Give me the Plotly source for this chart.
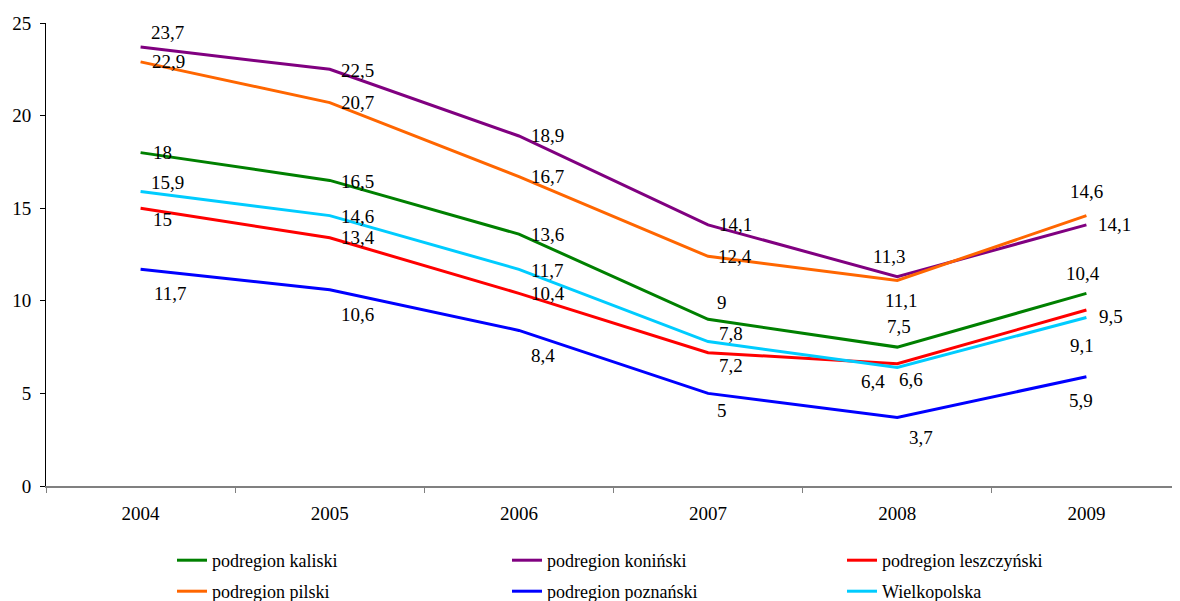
import plotly.graph_objects as go

years = ["2004", "2005", "2006", "2007", "2008", "2009"]

kaliski = [18, 16.5, 13.6, 9, 7.5, 10.4]
koninski = [23.7, 22.5, 18.9, 14.1, 11.3, 14.1]
leszczynski = [15, 13.4, 10.4, 7.2, 6.6, 9.5]
pilski = [22.9, 20.7, 16.7, 12.4, 11.1, 14.6]
poznanski = [11.7, 10.6, 8.4, 5, 3.7, 5.9]
wielkopolska = [15.9, 14.6, 11.7, 7.8, 6.4, 9.1]

# label offsets in pixels (dx right, dy down) -- just to mimic the excel placement
offsets = {
    "kaliski": [(22, 0), (28, 1), (29, 0), (14, -17), (2, -21), (-3, -20)],
    "koninski": [(27, -15), (28, 1), (29, 0), (27, 0), (-8, -20), (28, 0)],
    "leszczynski": [(22, 11), (28, 0), (29, 0), (23, 13), (14, 16), (25, 6)],
    "pilski": [(28, 0), (28, 0), (29, 0), (27, 0), (4, 20), (0, -24)],
    "poznanski": [(30, 24), (28, 25), (24, 25), (14, 17), (24, 20), (-5, 24)],
    "wielkopolska": [(27, -9), (28, 1), (29, 1), (23, -8), (-24, 14), (-4, 28)],
}

# (key, legend name, values, colour, legend column x, legend row y) in page pixels
series = [
    ("kaliski", "podregion kaliski", kaliski, "#008000", 164, 534),
    ("koninski", "podregion koniński", koninski, "#800080", 499, 534),
    ("leszczynski", "podregion leszczyński", leszczynski, "#FF0000", 834, 534),
    ("pilski", "podregion pilski", pilski, "#FF6600", 164, 565),
    ("poznanski", "podregion poznański", poznanski, "#0000FF", 499, 565),
    ("wielkopolska", "Wielkopolska", wielkopolska, "#00CCFF", 834, 565),
]

FONT = "Liberation Serif"
SIZE = 19

fig = go.Figure()
annotations = []
legends = {}
for n, (key, name, vals, color, lx, ly) in enumerate(series):
    leg = "legend" if n == 0 else f"legend{n + 1}"
    fig.add_trace(go.Scatter(x=years, y=vals, name=name, mode="lines", showlegend=True,
                             line=dict(color=color, width=3), legend=leg))
    legends[leg] = dict(x=lx / 1180, y=1 - ly / 601, orientation="v", xref="container", yref="container",
                        xanchor="left", yanchor="top", bgcolor="rgba(0,0,0,0)",
                        font=dict(family=FONT, size=18, color="black"))
    for i, (v, (dx, dy)) in enumerate(zip(vals, offsets[key])):
        annotations.append(dict(x=i, y=v, xref="x", yref="y", text=str(v).replace(".", ","),
                                showarrow=False, xshift=dx, yshift=-dy,
                                font=dict(family=FONT, size=SIZE, color="black")))

fig.update_layout(
    width=1180, height=601,
    showlegend=True,
    margin=dict(l=38, r=7, t=15, b=123, autoexpand=False),
    plot_bgcolor="white", paper_bgcolor="white",
    font=dict(family=FONT, size=SIZE, color="black"),
    annotations=annotations,
    xaxis=dict(type="category", range=[-0.5, 5.5], tickson="boundaries", ticks="outside",
               ticklen=5, tickcolor="#808080", showline=True, linecolor="#808080", linewidth=2,
               showgrid=False, ticklabelstandoff=9, zeroline=False, tickangle=0),
    yaxis=dict(range=[0, 25], dtick=5, ticks="outside", ticklen=5, tickcolor="black",
               showline=True, linecolor="black", linewidth=1, showgrid=False, zeroline=False,
               ticklabelstandoff=5),
    **legends,
)

fig.write_html("out.html")
